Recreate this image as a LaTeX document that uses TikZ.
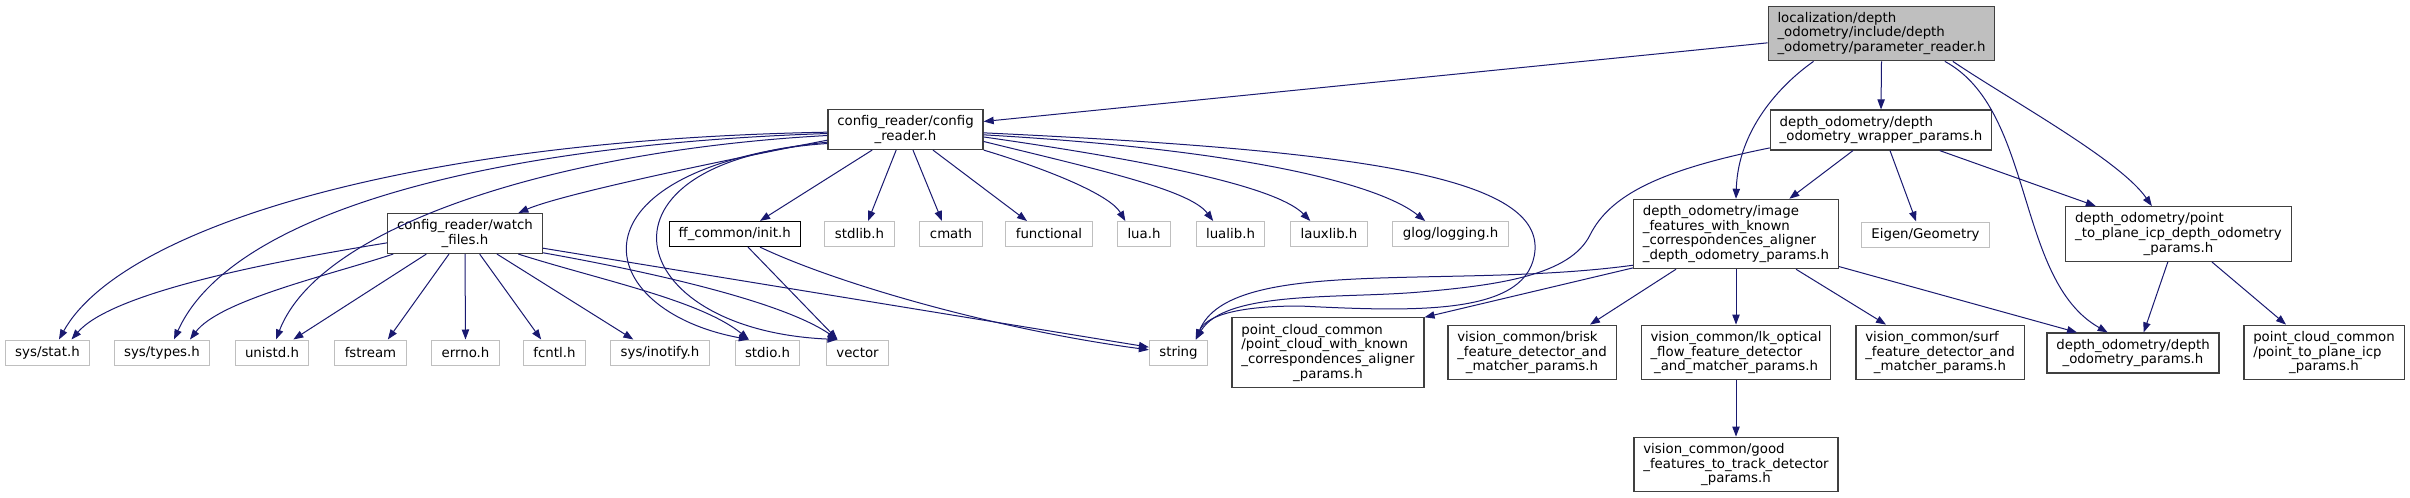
\documentclass[tikz,border=0pt]{standalone}
\usepackage{fontspec}
\setmainfont{DejaVu Sans}
\usetikzlibrary{arrows.meta}

% Centre the last line of a left aligned label
\newcommand{\lastln}[1]{\null\hfill#1\hfill\null}

\begin{document}
\begin{tikzpicture}[x=0.75pt, y=-0.75pt,
    file/.style={draw=borderColour, line width=0.9pt, fill=white, align=left,
        inner xsep=7pt, inner ysep=4.5pt, minimum height=18.75pt,
        font=\fontsize{10pt}{11pt}\selectfont},
    sysfile/.style={file, draw=leafColour, line width=0.75pt, inner xsep=7.5pt},
    rootfile/.style={file, fill=rootColour},
    dep/.style={draw=edgeColour, line width=0.75pt, -{Triangle[length=7.5pt,width=5.5pt]}}]
    % Define colors
    \definecolor{borderColour}{HTML}{404040}
    \definecolor{leafColour}{HTML}{BFBFBF}
    \definecolor{rootColour}{HTML}{BFBFBF}
    \definecolor{edgeColour}{HTML}{191970}

    % Fix the canvas size
    \useasboundingbox[fill=white] (0,0) rectangle (2410,497);

    % Draw the header being documented
    \node[rootfile] (root) at (1881.5,33.5) {localization/depth\\\_odometry/include/depth\\\lastln{\_odometry/parameter\_reader.h}};

    % Draw the project headers
    \node[file] (cfgReader) at (905.5,129.5) {config\_reader/config\\\lastln{\_reader.h}};
    \node[file] (wrapperParams) at (1881,130) {depth\_odometry/depth\\\lastln{\_odometry\_wrapper\_params.h}};
    \node[file] (watchFiles) at (465,233.5) {config\_reader/watch\\\lastln{\_files.h}};
    \node[file, draw=black, line width=0.75pt] (ffInit) at (734.7,234) {ff\_common/init.h};
    \node[file] (imgFeatures) at (1736,234) {depth\_odometry/image\\\_features\_with\_known\\\_correspondences\_aligner\\\lastln{\_depth\_odometry\_params.h}};
    \node[file] (ptpParams) at (2178.5,234) {depth\_odometry/point\\\_to\_plane\_icp\_depth\_odometry\\\lastln{\_params.h}};
    \node[file] (pcKnown) at (1328,352.5) {point\_cloud\_common\\/point\_cloud\_with\_known\\\_correspondences\_aligner\\\lastln{\_params.h}};
    \node[file] (brisk) at (1532,352.5) {vision\_common/brisk\\\_feature\_detector\_and\\\lastln{\_matcher\_params.h}};
    \node[file] (lkOptical) at (1736,352.5) {vision\_common/lk\_optical\\\_flow\_feature\_detector\\\lastln{\_and\_matcher\_params.h}};
    \node[file] (surf) at (1940,352.5) {vision\_common/surf\\\_feature\_detector\_and\\\lastln{\_matcher\_params.h}};
    \node[file] (doParams) at (2133,353) {depth\_odometry/depth\\\lastln{\_odometry\_params.h}};
    \node[file] (pcIcp) at (2324,352.5) {point\_cloud\_common\\/point\_to\_plane\_icp\\\lastln{\_params.h}};
    \node[file] (goodFeat) at (1736,464.5) {vision\_common/good\\\_features\_to\_track\_detector\\\lastln{\_params.h}};

    % Draw the system headers, upper row
    \node[sysfile] (stdlib) at (859.5,234) {stdlib.h};
    \node[sysfile] (cmath) at (951,234) {cmath};
    \node[sysfile] (functional) at (1049,234) {functional};
    \node[sysfile] (luaH) at (1144,234) {lua.h};
    \node[sysfile] (lualib) at (1230.5,234) {lualib.h};
    \node[sysfile] (lauxlib) at (1329,234) {lauxlib.h};
    \node[sysfile] (glog) at (1450.5,234) {glog/logging.h};
    \node[sysfile] (eigen) at (1925.5,234.5) {Eigen/Geometry};
    % Draw the system headers, lower row
    \node[sysfile] (sysStat) at (47.5,352.5) {sys/stat.h};
    \node[sysfile] (sysTypes) at (162,352.5) {sys/types.h};
    \node[sysfile] (unistd) at (272,352.5) {unistd.h};
    \node[sysfile] (fstream) at (370.5,352.5) {fstream};
    \node[sysfile] (errno) at (465.5,352.5) {errno.h};
    \node[sysfile] (fcntl) at (554.5,352.5) {fcntl.h};
    \node[sysfile] (inotify) at (660,352.5) {sys/inotify.h};
    \node[sysfile] (stdio) at (767.5,352.5) {stdio.h};
    \node[sysfile] (vector) at (857.5,352.5) {vector};
    \node[sysfile] (string) at (1178.5,352.5) {string};

    % Includes of the documented header
    \draw[dep] ([yshift=-7pt]root.west) -- ([yshift=6pt]cfgReader.east);
    \draw[dep] ([xshift=-51pt]root.south) .. controls (1780,85) and (1738,130) .. (imgFeatures.north);
    \draw[dep] (root.south) -- (wrapperParams.north);
    \draw[dep] ([xshift=47.5pt]root.south) .. controls (2035,110) and (2015,280) .. ([xshift=-19pt]doParams.north);
    \draw[dep] ([xshift=53.5pt]root.south) .. controls (2010,100) and (2120,160) .. ([xshift=-20pt]ptpParams.north);

    % Includes of the wrapper params
    \draw[dep] ([yshift=2pt]wrapperParams.south west) .. controls (1660,170) and (1610,195) .. (1590,235)
        .. controls (1570,275) and (1500,285) .. (1420,292)
        .. controls (1340,299) and (1225,290) .. ([xshift=13pt]string.north);
    \draw[dep] ([xshift=-21pt]wrapperParams.south) -- ([xshift=40pt]imgFeatures.north);
    \draw[dep] ([xshift=6.75pt]wrapperParams.south) -- ([xshift=-7pt]eigen.north);
    \draw[dep] ([xshift=44pt]wrapperParams.south) -- ([xshift=-62pt]ptpParams.north);

    % Includes of the image features params
    \draw[dep] ([yshift=3pt]imgFeatures.south west) .. controls (1450,290) and (1230,255) .. ([xshift=13pt]string.north);
    \draw[dep] ([yshift=1pt]imgFeatures.south west) -- (pcKnown.north east);
    \draw[dep] ([xshift=-45pt]imgFeatures.south) -- ([xshift=43.5pt]brisk.north);
    \draw[dep] (imgFeatures.south) -- (lkOptical.north);
    \draw[dep] ([xshift=45pt]imgFeatures.south) -- ([xshift=-40.5pt]surf.north);
    \draw[dep] ([yshift=2pt]imgFeatures.south east) -- ([xshift=-42pt]doParams.north);
    \draw[dep] (lkOptical.south) -- (goodFeat.north);

    % Includes of the point to plane params
    \draw[dep] ([xshift=-8pt]ptpParams.south) -- ([xshift=8pt]doParams.north);
    \draw[dep] ([xshift=25pt]ptpParams.south) -- ([xshift=-28.5pt]pcIcp.north);

    % Includes of the config reader, left side
    \draw[dep] ([yshift=-2pt]cfgReader.west) .. controls (400,140) and (120,230) .. ([xshift=8.6pt]sysStat.north);
    \draw[dep] ([yshift=-3pt]cfgReader.west) .. controls (480,145) and (230,215) .. ([xshift=9pt]sysTypes.north);
    \draw[dep] ([yshift=-4.5pt]cfgReader.west) .. controls (560,150) and (320,225) .. ([xshift=3pt]unistd.north);
    \draw[dep] ([yshift=-8pt]cfgReader.west) .. controls (700,165) and (560,195) .. ([xshift=40pt]watchFiles.north);
    \draw[dep] ([yshift=-9.5pt]cfgReader.west) .. controls (560,170) and (590,310) .. ([xshift=-14pt]stdio.north);
    \draw[dep] ([yshift=-10.5pt]cfgReader.west) .. controls (580,160) and (620,330) .. ([xshift=-15pt]vector.north);
    % Includes of the config reader, bottom side
    \draw[dep] ([xshift=-25pt]cfgReader.south) -- ([xshift=19pt]ffInit.north);
    \draw[dep] ([xshift=-7pt]cfgReader.south) -- ([xshift=6.4pt]stdlib.north);
    \draw[dep] ([xshift=5.6pt]cfgReader.south) -- ([xshift=-6.75pt]cmath.north);
    \draw[dep] ([xshift=20.6pt]cfgReader.south) -- ([xshift=-16.5pt]functional.north);
    % Includes of the config reader, right side
    \draw[dep] (cfgReader.south east) .. controls (1050,170) and (1110,195) .. ([xshift=-14pt]luaH.north);
    \draw[dep] ([yshift=-9pt]cfgReader.east) .. controls (1100,170) and (1190,190) .. ([xshift=-13pt]lualib.north);
    \draw[dep] ([yshift=-5.6pt]cfgReader.east) .. controls (1180,165) and (1280,190) .. ([xshift=-14pt]lauxlib.north);
    \draw[dep] ([yshift=-4pt]cfgReader.east) .. controls (1250,150) and (1380,185) .. ([xshift=-19pt]glog.north);
    \draw[dep] ([yshift=-2.5pt]cfgReader.east) .. controls (1350,150) and (1540,175) .. (1535,250)
        .. controls (1530,315) and (1420,312) .. (1300,306)
        .. controls (1230,306) and (1205,318) .. ([xshift=13pt]string.north);

    % Includes of the watch files header
    \draw[dep] ([yshift=-7pt]watchFiles.west) .. controls (250,265) and (110,295) .. ([xshift=18pt]sysStat.north);
    \draw[dep] ([xshift=4.5pt]watchFiles.south west) .. controls (330,275) and (220,300) .. ([xshift=21pt]sysTypes.north);
    \draw[dep] ([xshift=-29pt]watchFiles.south) -- ([xshift=16pt]unistd.north);
    \draw[dep] ([xshift=-12pt]watchFiles.south) -- ([xshift=13pt]fstream.north);
    \draw[dep] (watchFiles.south) -- (errno.north);
    \draw[dep] ([xshift=11pt]watchFiles.south) -- ([xshift=-10pt]fcntl.north);
    \draw[dep] ([xshift=24pt]watchFiles.south) -- ([xshift=-20pt]inotify.north);
    \draw[dep] ([xshift=40pt]watchFiles.south) .. controls (600,280) and (700,300) .. ([xshift=-14pt]stdio.north);
    \draw[dep] ([yshift=1pt]watchFiles.south east) .. controls (640,270) and (780,300) .. ([xshift=-15pt]vector.north);
    \draw[dep] ([yshift=-11pt]watchFiles.east) -- ([yshift=4pt]string.west);

    % Includes of the init header
    \draw[dep] ([xshift=10pt]ffInit.south) -- ([xshift=-15pt]vector.north);
    \draw[dep] ([xshift=19pt]ffInit.south) .. controls (840,285) and (1000,330) .. ([yshift=2pt]string.west);

\end{tikzpicture}
\end{document}
